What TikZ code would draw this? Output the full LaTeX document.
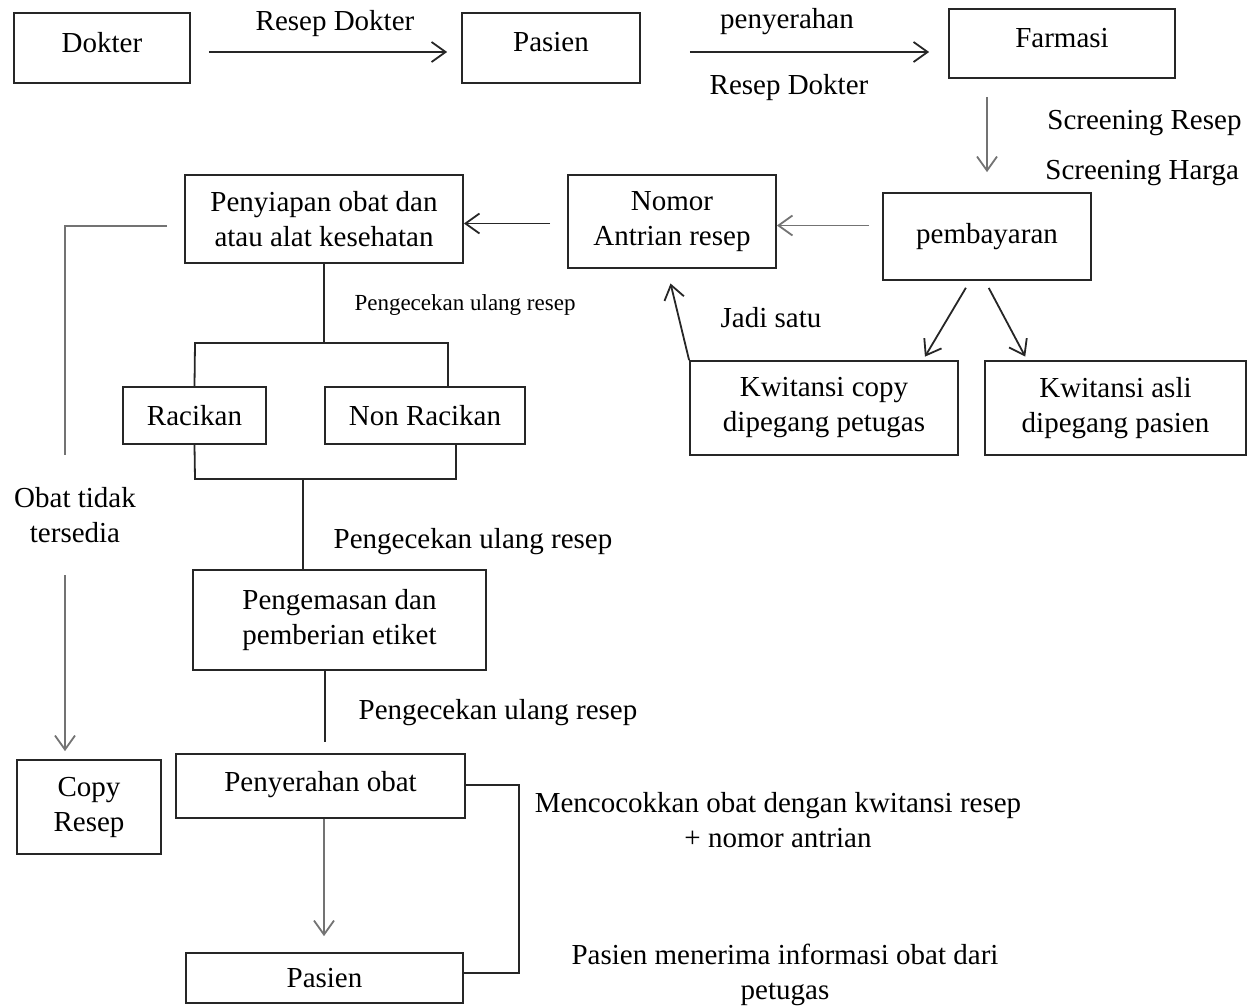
\documentclass[tikz,border=0pt]{standalone}
\usepackage{fontspec}
\setmainfont{Liberation Serif}
\usetikzlibrary{arrows.meta}

\begin{document}
\begin{tikzpicture}[x=0.5pt,y=-0.5pt,
    every node/.style={font=\fontsize{14.5pt}{17.5pt}\selectfont, inner sep=0pt, align=center},
    kotak/.style={draw=black!85, line width=0.9pt, rectangle},
    garis/.style={draw=black!85, line width=0.9pt},
    abu/.style={draw=black!55, line width=0.9pt},
    panah/.style={-{Straight Barb[length=7pt,width=10pt]}},
    kecil/.style={font=\fontsize{11.5pt}{14pt}\selectfont}]
    \useasboundingbox (0,0) rectangle (1259,1006);

    \node[kotak, minimum width=88pt, minimum height=35pt, text depth=6pt] (dokter) at (102,48) {Dokter};
    \node[kotak, minimum width=89pt, minimum height=35pt, text depth=6pt] (pasien) at (551,48) {Pasien};
    \node[kotak, minimum width=113pt, minimum height=34.5pt, text depth=6pt] (farmasi) at (1062,43.5) {Farmasi};
    \node[kotak, minimum width=104pt, minimum height=43.5pt] (bayar) at (987,236.5) {pembayaran};
    \node[kotak, minimum width=104pt, minimum height=46.5pt] (nomor) at (672,221.5) {Nomor\\Antrian resep};
    \node[kotak, minimum width=139pt, minimum height=44pt] (siap) at (324,219) {Penyiapan obat dan\\atau alat kesehatan};
    \node[kotak, minimum width=134pt, minimum height=47pt] (kcopy) at (824,408) {Kwitansi copy\\dipegang petugas};
    \node[kotak, minimum width=130.5pt, minimum height=47pt] (kasli) at (1115.5,408) {Kwitansi asli\\dipegang pasien};
    \node[kotak, minimum width=71.5pt, minimum height=28.5pt] (racik) at (194.5,415.5) {Racikan};
    \node[kotak, minimum width=100pt, minimum height=28.5pt] (nonracik) at (425,415.5) {Non Racikan};
    \node[kotak, minimum width=146.5pt, minimum height=50pt] (kemas) at (339.5,620) {Pengemasan dan\\pemberian etiket};
    \node[kotak, minimum width=72pt, minimum height=47pt] (copy) at (89,807) {Copy\\Resep};
    \node[kotak, minimum width=144.5pt, minimum height=32pt, text depth=5pt] (serah) at (320.5,786) {Penyerahan obat};
    \node[kotak, minimum width=138.5pt, minimum height=25pt] (pasien2) at (324.5,978) {Pasien};

    \node (lblDokter) at (335,24) {Resep Dokter};
    \node (lblSerah) at (787,22) {penyerahan};
    \node (lblResep) at (789,88) {Resep Dokter};
    \node[anchor=west] (lblScr1) at (1047,123) {Screening Resep};
    \node[anchor=west] (lblScr2) at (1045,173) {Screening Harga};
    \node (lblSatu) at (771,318) {Jadi satu};
    \node[kecil] (lblCek1) at (465,305) {Pengecekan ulang resep};
    \node (lblCek2) at (473,542) {Pengecekan ulang resep};
    \node (lblCek3) at (498,713) {Pengecekan ulang resep};
    \node (lblObat) at (75,515) {Obat tidak\\tersedia};
    \node (lblCocok) at (778,820) {Mencocokkan obat dengan kwitansi resep\\+ nomor antrian};
    \node (lblInfo) at (785,975) {Pasien menerima informasi obat dari\\petugas};

    \draw[garis, panah, shorten <=9pt, shorten >=7pt] ([yshift=-2pt]dokter.east) -- ([yshift=-2pt]pasien.west);
    \draw[garis, panah, shorten <=24.5pt, shorten >=9.5pt] ([yshift=-2pt]pasien.east) -- ([yshift=-2pt]pasien.east -| farmasi.west);
    \draw[abu, panah, shorten <=9pt, shorten >=10pt] (farmasi.south -| bayar.north) -- (bayar.north);
    \draw[abu, panah, shorten <=6.5pt] ([yshift=-2pt]nomor.east -| bayar.west) -- ([yshift=-2pt]nomor.east);
    \draw[garis, panah, shorten <=8.5pt] ([yshift=-1pt]nomor.west) -- ([yshift=-1pt]nomor.west -| siap.east);
    \draw[garis, panah, shorten >=7.5pt] (kcopy.north west) -- ([xshift=-2.5pt]nomor.south);
    \draw[garis, panah, shorten <=4pt, shorten >=2pt] ([xshift=-8.5pt]bayar.south) -- ([xshift=-18pt]kcopy.north east);
    \draw[garis, panah, shorten <=4pt, shorten >=2pt] ([xshift=-1pt]bayar.south) -- ([xshift=21.5pt]kasli.north west);

    \coordinate (cabangKiri) at (195,343);
    \coordinate (cabangKanan) at (448,343);
    \draw[garis] (siap.south) -- (siap.south |- cabangKiri);
    \draw[garis] (racik.north) -- (cabangKiri) -- (cabangKanan) -- (cabangKanan |- nonracik.north);

    \coordinate (gabungKiri) at (195,479);
    \coordinate (gabungKanan) at (456,479);
    \coordinate (gabungTengah) at (303,479);
    \draw[garis] (racik.south) -- (gabungKiri) -- (gabungKanan) -- (gabungKanan |- nonracik.south);
    \draw[garis] (gabungTengah) -- (gabungTengah |- kemas.north);

    \draw[garis, shorten >=5.5pt] ([xshift=-7.25pt]kemas.south) -- ([xshift=-7.25pt]kemas.south |- serah.north);
    \draw[abu, panah, shorten >=8pt] ([xshift=1.75pt]serah.south) -- ([xshift=1.75pt]serah.south |- pasien2.north);
    \draw[garis] ([yshift=0.5pt]serah.east) -- ++(53,0) |- ([yshift=2.5pt]pasien2.east);

    \coordinate (kiriBelok) at (65,226);
    \coordinate (kiriPutus) at (65,455);
    \coordinate (kiriLanjut) at (65,575);
    \draw[abu] ([xshift=-8.5pt]siap.west |- kiriBelok) -- (kiriBelok) -- (kiriPutus);
    \draw[abu, panah, shorten >=4pt] (kiriLanjut) -- (kiriLanjut |- copy.north);
\end{tikzpicture}
\end{document}
